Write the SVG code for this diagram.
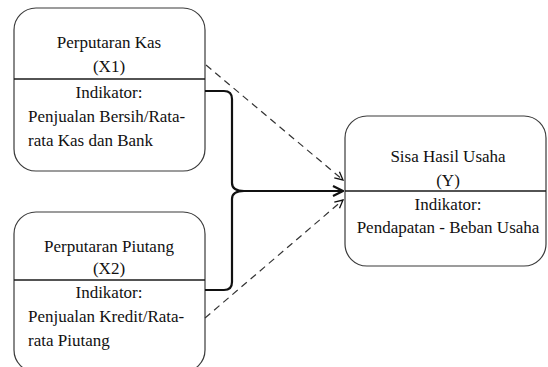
<svg xmlns="http://www.w3.org/2000/svg" width="548" height="367" viewBox="0 0 548 367">
<defs>
<style>
.box{fill:#fff;stroke:#3a3a3a;stroke-width:1.2}
.div{stroke:#1a1a1a;stroke-width:1.4}
.t{font-family:"Liberation Serif","Times New Roman",serif;font-size:17px;fill:#111}
.c{text-anchor:middle}
.brace{fill:none;stroke:#111;stroke-width:2.2}
.dash{fill:none;stroke:#333;stroke-width:1.2;stroke-dasharray:7,5}
</style>
<marker id="ah" viewBox="0 0 10 10" refX="9" refY="5" markerWidth="10" markerHeight="10" markerUnits="userSpaceOnUse" orient="auto">
<path d="M1,1 L9,5 L1,9" fill="none" stroke="#111" stroke-width="1.3"/>
</marker>
<marker id="ahb" viewBox="0 0 12 12" refX="11" refY="6" markerWidth="12" markerHeight="12" markerUnits="userSpaceOnUse" orient="auto">
<path d="M1,1 L11,6 L1,11" fill="none" stroke="#111" stroke-width="2.2"/>
</marker>
</defs>
<rect width="548" height="367" fill="#fff"/>
<g id="x1">
<rect class="box" x="14" y="8" width="191" height="163" rx="22"/>
<line class="div" x1="14" y1="79" x2="205" y2="79"/>
<text class="t c" x="109" y="48">Perputaran Kas</text>
<text class="t c" x="109" y="72">(X1)</text>
<text class="t c" x="109" y="98">Indikator:</text>
<text class="t" x="28" y="122">Penjualan Bersih/Rata-</text>
<text class="t" x="28" y="146">rata Kas dan Bank</text>
</g>
<g id="x2">
<rect class="box" x="14" y="212" width="191" height="160" rx="22"/>
<line class="div" x1="14" y1="280" x2="205" y2="280"/>
<text class="t c" x="109" y="252">Perputaran Piutang</text>
<text class="t c" x="109" y="274">(X2)</text>
<text class="t c" x="109" y="298">Indikator:</text>
<text class="t" x="28" y="322">Penjualan Kredit/Rata-</text>
<text class="t" x="28" y="346">rata Piutang</text>
</g>
<g id="y">
<rect class="box" x="345" y="116" width="201" height="150" rx="22"/>
<line class="div" x1="345" y1="191" x2="546" y2="191"/>
<text class="t c" x="448" y="162">Sisa Hasil Usaha</text>
<text class="t c" x="448" y="186">(Y)</text>
<text class="t c" x="448" y="210">Indikator:</text>
<text class="t c" x="448" y="233">Pendapatan - Beban Usaha</text>
</g>
<g id="connectors">
<path class="brace" d="M205,91 L224,91 Q232,91 232,99 L232,183 Q232,191 244,191 L343,191" marker-end="url(#ahb)"/>
<path class="brace" d="M205,290 L224,290 Q232,290 232,282 L232,199 Q232,191 244,191"/>
<path class="dash" d="M206,65 L343,180" marker-end="url(#ah)"/>
<path class="dash" d="M205,318 L343,200" marker-end="url(#ah)"/>
</g>
</svg>
